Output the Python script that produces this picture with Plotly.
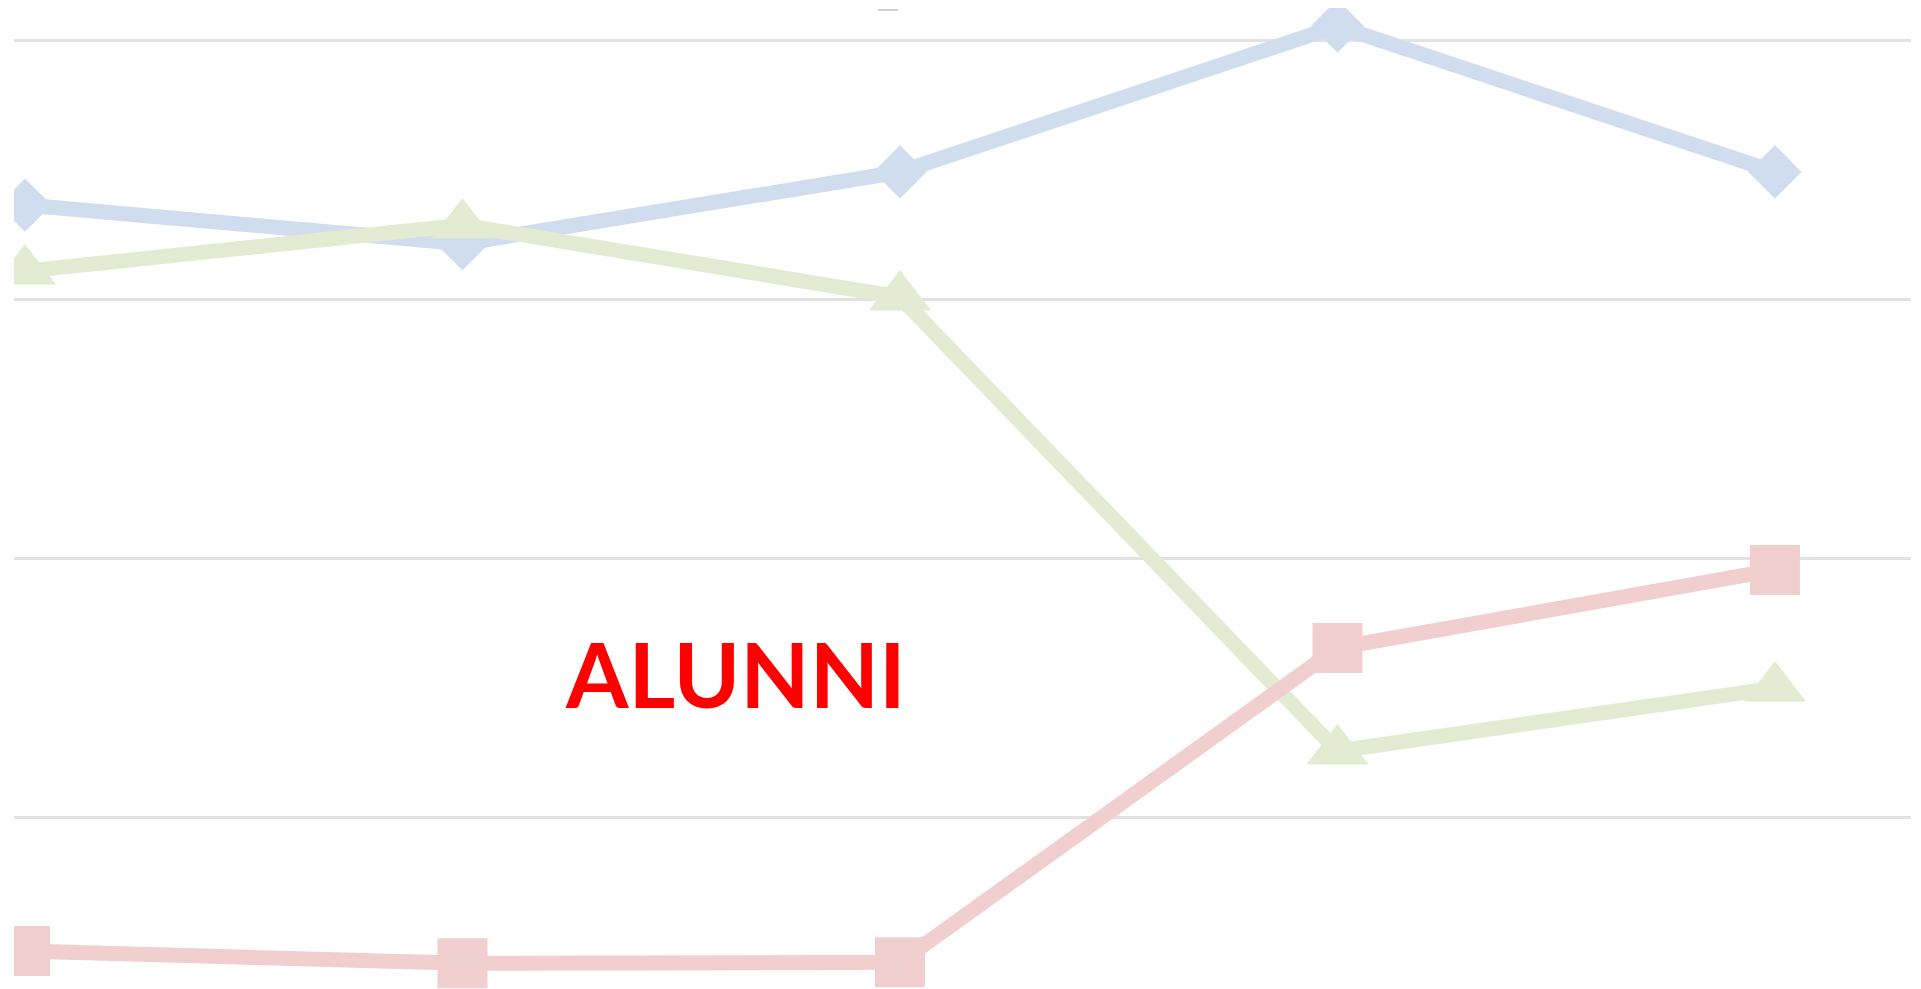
import plotly.graph_objects as go

# Categories (x positions) and series values
categories = ["1", "2", "3", "4", "5"]
blue_values = [33.64, 32.15, 34.92, 40.55, 34.92]
green_values = [31.09, 32.87, 30.09, 12.56, 14.99]
red_values = [4.84, 4.36, 4.40, 16.54, 19.55]
grid_ticks = [10, 20, 30, 40]
label_text = "ALUNNI"

BLUE = "#CFDDEE"
GREEN = "#E3ECD3"
RED = "#F0CFCE"

fig = go.Figure()

fig.add_trace(go.Scatter(
    x=categories, y=blue_values, mode="lines+markers",
    line=dict(color=BLUE, width=15),
    marker=dict(symbol="diamond", size=41, color=BLUE),
    showlegend=False, hoverinfo="skip"))

fig.add_trace(go.Scatter(
    x=categories, y=green_values, mode="lines+markers",
    line=dict(color=GREEN, width=15),
    marker=dict(symbol="triangle-up", size=54, color=GREEN),
    showlegend=False, hoverinfo="skip"))

fig.add_trace(go.Scatter(
    x=categories, y=red_values, mode="lines+markers",
    line=dict(color=RED, width=15),
    marker=dict(symbol="square", size=50, color=RED),
    showlegend=False, hoverinfo="skip"))

fig.update_layout(
    width=1921, height=989,
    margin=dict(l=14, r=10, t=8, b=0, autoexpand=False),
    paper_bgcolor="white", plot_bgcolor="white",
    xaxis=dict(type="category", range=[-0.0251, 4.311], showgrid=False,
               showticklabels=False, zeroline=False, showline=False, ticks=""),
    yaxis=dict(range=[3.37, 41.25], tickvals=grid_ticks, showticklabels=False,
               showgrid=True, gridcolor="#E2E2E2", gridwidth=3,
               zeroline=False, showline=False, ticks=""),
    annotations=[dict(
        text="<b>" + label_text + "</b>", xref="paper", yref="paper",
        x=0.2894, y=0.322, xanchor="left", yanchor="middle", showarrow=False,
        font=dict(family="Lato", size=90, color="#FF0000", weight=700))],
    shapes=[dict(type="line", xref="paper", yref="paper",
                 x0=(878 - 14) / 1897, x1=(898 - 14) / 1897,
                 y0=(989 - 10) / 981, y1=(989 - 10) / 981,
                 line=dict(color="#D6CFCB", width=2))],
)

fig.write_html("out.html", config={"displayModeBar": False},
               post_script="document.body.style.margin='0';document.body.style.overflow='hidden';")
